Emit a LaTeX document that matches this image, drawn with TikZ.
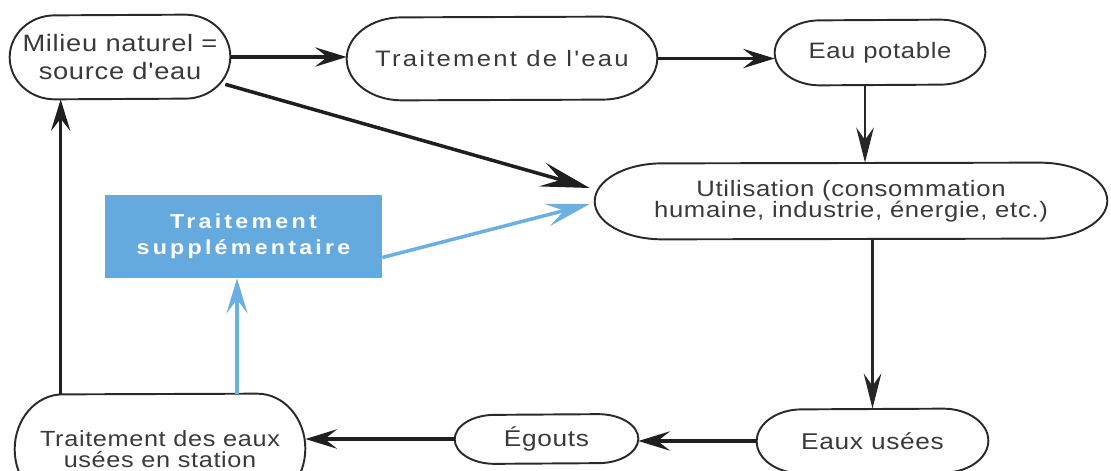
\documentclass[tikz,border=0pt]{standalone}
\usepackage{fontspec}
\usetikzlibrary{arrows.meta,calc}
\newfontfamily\fa{Liberation Sans}[FakeStretch=1.15,LetterSpace=3]
\newfontfamily\fb{Liberation Sans}[FakeStretch=1.15,LetterSpace=10]
\newfontfamily\fc{Liberation Sans}[FakeStretch=1.15,LetterSpace=16]
\definecolor{txt}{HTML}{3A3A3A}
\definecolor{edge}{HTML}{2A2A2A}
\definecolor{bluefill}{HTML}{64AADE}
\definecolor{bluearr}{HTML}{6AB0E2}
\tikzset{
  box/.style={rectangle, inner sep=0pt, align=center, text=txt},
  outline/.style={draw=edge, line width=1.1pt},
  arr/.style={draw=black!88, line width=2pt, -{Stealth[length=18pt,width=11pt,inset=7pt]}},
  bighead/.style={-{Stealth[length=28pt,width=14pt,inset=11pt]}},
  arrthin/.style={draw=black!85, line width=1.2pt, -{Stealth[length=20pt,width=10pt,inset=7pt]}},
  arrblue/.style={draw=bluearr, line width=2pt, -{Stealth[length=20pt,width=12pt,inset=8pt]}},
  bluebig/.style={-{Stealth[length=25pt,width=13pt,inset=10pt]}},
}
\newcommand\capsule[3]{\draw[outline] ($(#1.north east)+(-#2,0)$) arc[start angle=90,end angle=-90,x radius=#2,y radius=#3] -- ($(#1.south west)+(#2,0)$) arc[start angle=270,end angle=90,x radius=#2,y radius=#3] -- cycle;}
\begin{document}
\begin{tikzpicture}[x=0.02cm,y=-0.02cm]
\useasboundingbox (0,0) rectangle (1111,470);
\clip (0,0) rectangle (1111,470);
% nodes
\node[box, minimum width=4.4cm, minimum height=1.68cm, font=\fa\fontsize{13.5}{16.4}\selectfont] (milieu) at (120,57) {Milieu naturel =\\source d'eau};
\node[box, minimum width=6.2cm, minimum height=1.66cm, font=\fb\fontsize{12.7}{15}\selectfont] (trait) at (502,58.5) {Traitement de l'eau};
\node[box, minimum width=4.2cm, minimum height=1.3cm, font=\fa\fontsize{12.7}{15}\selectfont] (eau) at (880,52.5) {Eau potable};
\node[box, minimum width=10.24cm, minimum height=1.52cm, font=\fa\fontsize{12.7}{12.2}\selectfont] (util) at (851,201) {Utilisation (consommation\\humaine, industrie, énergie, etc.)};
\node[rectangle, inner sep=0pt, fill=bluefill, text=white, align=center, minimum width=5.54cm, minimum height=1.66cm, font=\fc\bfseries\fontsize{11.5}{14.7}\selectfont] (blue) at (243.5,236.5) {Traitement\\supplémentaire};
\node[box, minimum width=5.8cm, minimum height=2.2cm, font=\fa\fontsize{12.5}{11.6}\selectfont] (station) at (160,449) {Traitement des eaux\\usées en station};
\node[box, minimum width=3.66cm, minimum height=0.98cm, font=\fa\fontsize{13}{15}\selectfont] (egouts) at (546.5,439) {Égouts};
\node[box, minimum width=4.62cm, minimum height=1.28cm, font=\fa\fontsize{13}{15}\selectfont] (eaux) at (872.5,441) {Eaux usées};
% outlines
\capsule{milieu}{0.9cm}{0.84cm}
\capsule{trait}{1.1cm}{0.83cm}
\capsule{eau}{0.9cm}{0.65cm}
\capsule{util}{1.35cm}{0.76cm}
\capsule{station}{0.96cm}{1.1cm}
\capsule{egouts}{0.8cm}{0.49cm}
\capsule{eaux}{0.9cm}{0.64cm}
% connectors
\draw[arr] (milieu.east) -- (milieu.east -| trait.west);
\draw[arr] (trait.east) -- (trait.east -| eau.west);
\draw[arrthin] ([xshift=-0.3cm]eau.south) -- ([xshift=-0.3cm]eau.south |- util.north);
\draw[arrthin] (eaux.north |- util.south) -- (eaux.north);
\draw[arr] (eaux.west) -- (eaux.west -| egouts.east);
\draw[arr] (egouts.west) -- (egouts.west -| station.east);
\draw[arr] ([xshift=0.92cm]station.north west) -- ([xshift=0.92cm]station.north west |- milieu.south);
\draw[arrblue] ([xshift=-0.13cm]blue.south |- station.north) -- ([xshift=-0.13cm]blue.south);
\draw[arr, bighead] ($(milieu.south east)+(-0.1cm,0.3cm)$) -- ($(util.west)+(-0.1cm,0.26cm)$);
\draw[arrblue, bluebig] ($(blue.east)+(0,-0.42cm)$) -- ($(util.west)+(-0.1cm,-0.06cm)$);
\end{tikzpicture}
\end{document}
